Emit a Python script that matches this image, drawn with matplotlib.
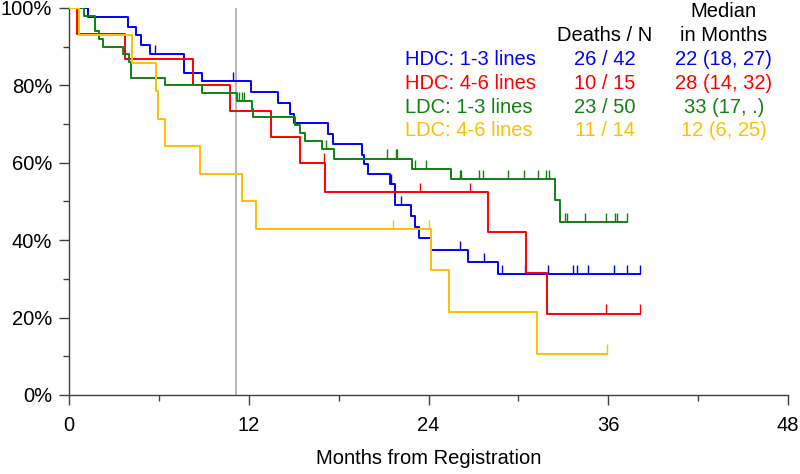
import matplotlib
matplotlib.use('Agg')
import matplotlib.pyplot as plt
import numpy as np

plt.rcParams['font.family'] = ['Liberation Sans', 'DejaVu Sans']

groups = ['HDC: 1-3 lines', 'HDC: 4-6 lines', 'LDC: 1-3 lines', 'LDC: 4-6 lines']
deaths_n = ['26 / 42', '10 / 15', '23 / 50', '11 / 14']
medians = ['22 (18, 27)', '28 (14, 32)', '33 (17, .)', '12 (6, 25)']
colors = ['#0000FF', '#FF0000', '#128012', '#FFC000']

# step times (months) and survival (%) just after each step
hdc13_t = [1.28, 3.94, 4.45, 4.78, 5.42, 7.70, 8.85, 12.18, 13.94, 14.74, 15.01, 17.28, 17.60,
           19.59, 19.72, 19.94, 21.43, 21.78, 22.86, 23.09, 23.35, 24.19, 26.67, 28.67]
hdc13_s = [97.6, 95.2, 92.9, 90.5, 88.1, 83.3, 81.0, 78.2, 75.4, 72.7, 70.3, 67.5, 64.9,
           62.1, 59.7, 57.1, 54.6, 49.1, 46.2, 43.5, 40.6, 37.5, 34.4, 31.2]
hdc13_c = [5.71, 10.96, 21.49, 22.16, 26.08, 27.69, 28.88, 30.43, 31.99, 33.67, 33.93, 34.64,
           36.37, 37.25, 38.1]

hdc46_t = [0.55, 3.72, 8.25, 10.76, 13.5, 15.4, 17.1, 28.0, 30.5, 31.94]
hdc46_s = [93.3, 86.7, 80.0, 73.3, 66.7, 60.0, 52.5, 42.0, 31.5, 21.0]
hdc46_c = [17.0, 23.46, 26.8, 35.86, 38.1]

ldc13_t = [1.0, 1.73, 2.0, 2.28, 3.6, 4.0, 4.12, 6.44, 8.85, 11.2, 12.2, 12.3, 15.07, 15.45,
           15.74, 16.9, 17.66, 22.9, 25.52, 32.42, 32.78]
ldc13_s = [98.0, 94.0, 92.0, 90.0, 88.0, 86.0, 82.0, 80.0, 78.0, 76.0, 73.9, 71.8, 69.8, 67.7,
           65.5, 63.6, 61.1, 58.4, 55.7, 50.3, 44.7]
ldc13_c = [11.35, 11.53, 11.69, 17.18, 21.2, 21.8, 21.91, 23.13, 23.82, 26.08, 26.18, 27.4,
           27.67, 29.28, 30.39, 31.34, 31.84, 32.02, 33.11, 33.27, 34.48, 35.86, 36.43, 36.59, 37.25]

ldc46_t = [0.68, 4.23, 5.8, 5.93, 6.4, 8.77, 11.57, 12.5, 24.15, 25.37, 31.27]
ldc46_s = [92.9, 85.7, 78.6, 71.4, 64.3, 57.1, 50.0, 42.9, 32.2, 21.4, 10.7]
ldc46_c = [21.6, 24.0, 35.9]

curves = [(hdc13_t, hdc13_s, hdc13_c), (hdc46_t, hdc46_s, hdc46_c),
          (ldc13_t, ldc13_s, ldc13_c), (ldc46_t, ldc46_s, ldc46_c)]

landmark = 11.15

fig = plt.figure(figsize=(8, 4.74), dpi=100)
ax = fig.add_axes([0.08625, 0.1667, 0.89875, 0.8165])

ax.axvline(landmark, color='#AAAAAA', lw=1.2, zorder=1)

for (t, s, c), col in zip(curves, colors):
    t = np.array(t)
    s = np.array(s)
    end = max(c[-1], t[-1])
    xs = np.concatenate([[0], t, [end]])
    ys = np.concatenate([[100], s, [s[-1]]])
    ax.plot(xs, ys, drawstyle='steps-post', color=col, lw=1.4, zorder=3)
    c = np.array(c)
    idx = np.searchsorted(t, c, side='right')
    sc = np.where(idx > 0, s[np.maximum(idx - 1, 0)], 100)
    ax.vlines(c, sc, sc + 2.4, color=col, lw=1.0, zorder=3)

ax.set_xlim(0, 48)
ax.set_ylim(0, 100)
ax.set_xticks([0, 12, 24, 36, 48])
ax.set_xticks([6, 18, 30, 42], minor=True)
ax.set_yticks([0, 20, 40, 60, 80, 100])
ax.set_yticklabels(['0%', '20%', '40%', '60%', '80%', '100%'])
ax.set_yticks([10, 30, 50, 70, 90], minor=True)
ax.tick_params(which='major', length=7, width=1, color='#404040', labelsize=14.5, pad=5)
ax.tick_params(which='minor', length=4.5, width=1, color='#404040')
ax.tick_params(axis='x', which='major', pad=8)
for side in ['top', 'right']:
    ax.spines[side].set_visible(False)
for side in ['left', 'bottom']:
    ax.spines[side].set_color('#404040')
    ax.spines[side].set_linewidth(1)
ax.set_xlabel('Months from Registration', fontsize=14.5, labelpad=10)

# legend table
ax.text(35.79, 93.0, 'Deaths / N', fontsize=14.5, ha='center', va='center')
ax.text(43.72, 99.0, 'Median', fontsize=14.5, ha='center', va='center', clip_on=False)
ax.text(43.72, 93.0, 'in Months', fontsize=14.5, ha='center', va='center')
row_y = [86.6, 80.4, 74.3, 68.3]
for g, d, m, col, y in zip(groups, deaths_n, medians, colors, row_y):
    ax.text(22.42, y, g, color=col, fontsize=14.5, ha='left', va='center')
    ax.text(35.79, y, d, color=col, fontsize=14.5, ha='center', va='center')
    ax.text(43.72, y, m, color=col, fontsize=14.5, ha='center', va='center')

plt.savefig('out.png', dpi=100)
